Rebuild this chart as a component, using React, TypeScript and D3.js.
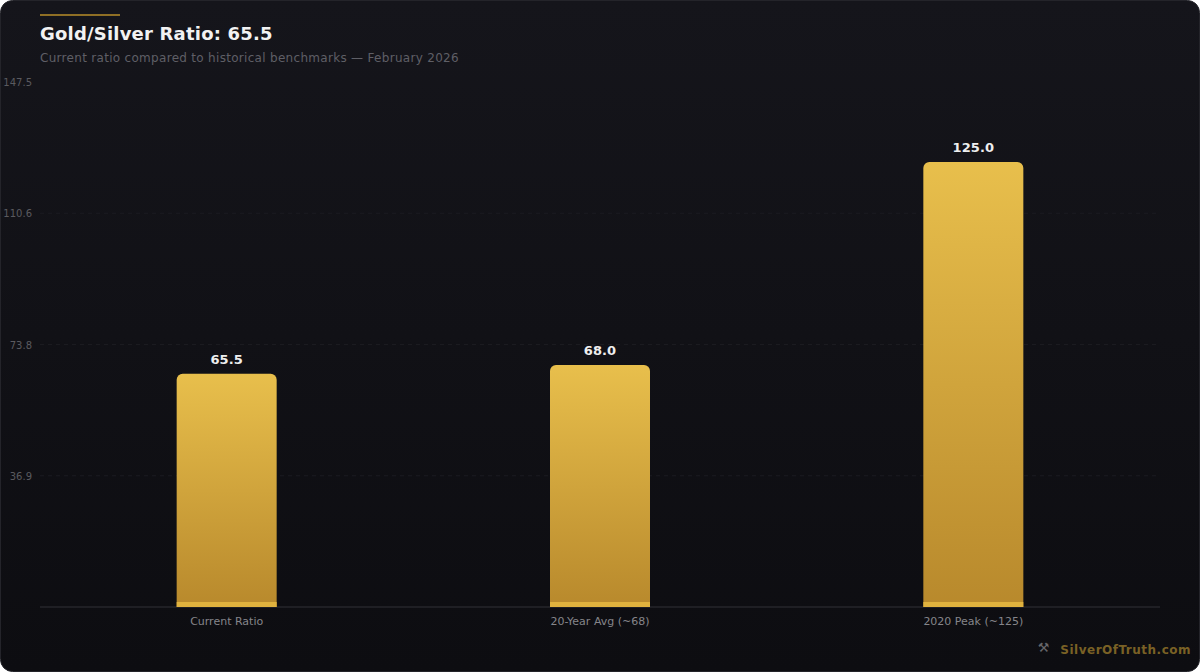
import React from "react";
import * as d3 from "d3";

const categories = ["Current Ratio", "20-Year Avg (~68)", "2020 Peak (~125)"];
const values = [65.5, 68.0, 125.0];
const tickValues = [36.875, 73.75, 110.625, 147.5];
const titleText = "Gold/Silver Ratio: 65.5";
const subtitleText = "Current ratio compared to historical benchmarks — February 2026";
const brandText = "SilverOfTruth.com";

const W = 1200;
const H = 672;
const FONT = "'DejaVu Sans', sans-serif";

export default function App() {
  const x = d3.scaleBand<string>().domain(categories).range([40, 1160]);
  const y = d3.scaleLinear().domain([0, 147.5]).range([607, 82]);
  const barW = 100;
  const r = 6;
  const barPath = (cat: string, v: number) => {
    const left = (x(cat) as number) + x.bandwidth() / 2 - barW / 2;
    const p = d3.path();
    p.moveTo(left, y(0));
    p.lineTo(left, y(v) + r);
    p.arcTo(left, y(v), left + r, y(v), r);
    p.lineTo(left + barW - r, y(v));
    p.arcTo(left + barW, y(v), left + barW, y(v) + r, r);
    p.lineTo(left + barW, y(0));
    p.closePath();
    return p.toString();
  };
  return (
    <svg
      width={W}
      height={H}
      viewBox={`0 0 ${W} ${H}`}
      style={{ position: "absolute", left: 0, top: 0, display: "block", fontFamily: FONT }}
    >
      <defs>
        <linearGradient id="bg" x1="0" y1="0" x2="0" y2="1">
          <stop offset="0" stopColor="#15151b" />
          <stop offset="1" stopColor="#0d0d11" />
        </linearGradient>
        <linearGradient id="bar" x1="0" y1="0" x2="0" y2="1">
          <stop offset="0" stopColor="#e8bf4c" />
          <stop offset="1" stopColor="#b8892c" />
        </linearGradient>
      </defs>
      <rect x={0.5} y={0.5} width={W - 1} height={H - 1} rx={12} fill="url(#bg)" stroke="#24242a" />
      <rect x={40} y={14} width={80} height={2} fill="#8f6f25" />
      <text x={40} y={40} fontSize={18} fontWeight={700} fill="#f2f2f2" letterSpacing={0.2}>
        {titleText}
      </text>
      <text x={40} y={62} fontSize={12} fill="#5f5f66" letterSpacing={0.3}>
        {subtitleText}
      </text>

      {tickValues.map((t) => (
        <g key={t}>
          {t < 147 && (
            <line x1={40} x2={1160} y1={y(t)} y2={y(t)} stroke="#1b1b20" strokeDasharray="4 4" />
          )}
          <text x={32} y={y(t) + 4} fontSize={10} textAnchor="end" fill="#5a5a5f">
            {d3.format(".1f")(t)}
          </text>
        </g>
      ))}

      <line x1={40} x2={1160} y1={y(0)} y2={y(0)} stroke="#26262b" strokeWidth={1.5} />

      {categories.map((c, i) => {
        const cx = (x(c) as number) + x.bandwidth() / 2;
        return (
          <g key={c}>
            <path d={barPath(c, values[i])} fill="url(#bar)" />
            <rect x={cx - barW / 2} y={y(0) - 5} width={barW} height={5} fill="#e0b23e" />
            <text x={cx} y={y(values[i]) - 10} fontSize={13} fontWeight={700} textAnchor="middle" fill="#eeeeee" letterSpacing={0.1}>
              {d3.format(".1f")(values[i])}
            </text>
            <text x={cx} y={625} fontSize={11} textAnchor="middle" fill="#85858a">
              {c}
            </text>
          </g>
        );
      })}

      <text x={1191} y={654} fontSize={12} fontWeight={700} textAnchor="end" fill="#7a6125" letterSpacing={0.5}>
        {brandText}
      </text>
      <text x={1043.5} y={652} fontSize={13} textAnchor="middle" fill="#66666a">
        ⚒
      </text>
    </svg>
  );
}
